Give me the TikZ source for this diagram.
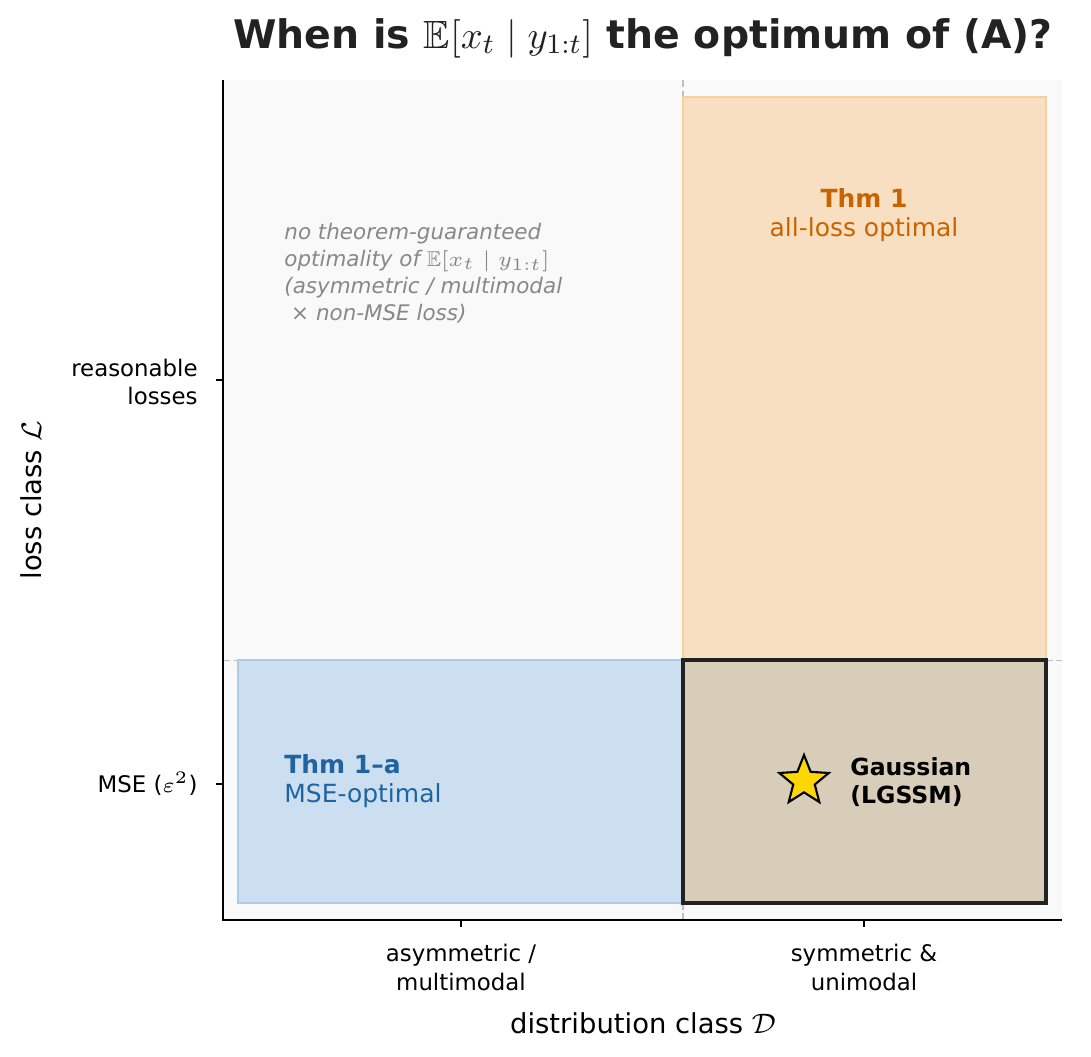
\documentclass[tikz,border=0pt]{standalone}
\usepackage{amssymb}
\usepackage{fontspec}
\setmainfont{DejaVu Sans}
\usetikzlibrary{shapes.geometric}
\definecolor{bgc}{HTML}{F9F9F9}
\definecolor{orf}{HTML}{F9DFC1}
\definecolor{ord}{HTML}{F5CFA0}
\definecolor{blf}{HTML}{CBDFF0}
\definecolor{bld}{HTML}{A9CCE9}
\definecolor{ovf}{HTML}{D8CDB8}
\definecolor{thmo}{HTML}{C86400}
\definecolor{thmb}{HTML}{1F63A0}
\definecolor{grayt}{HTML}{888888}
\definecolor{dk}{HTML}{222222}
\tikzset{lbl/.style={font=\fontsize{6.5}{8.2}\selectfont,align=center},
 grid/.style={dashed,draw=gray!50,line width=0.3pt,dash pattern=on 2pt off 1pt}}
\begin{document}
\begin{tikzpicture}[x=0.01cm,y=-0.01cm]
\useasboundingbox (0,0) rectangle (1091,1056);
\fill[bgc] (223,80) rectangle (1062,920);
\draw[grid] (683,80) -- (683,920);
\draw[grid] (223,660) -- (1062,660);
\filldraw[fill=orf,draw=ord,line width=0.6pt] (683,97) rectangle (1046,903);
\filldraw[fill=blf,draw=bld,line width=0.6pt] (238,660) rectangle (683,903);
\filldraw[fill=ovf,draw=dk,line width=1.2pt] (683,660) rectangle (1046,903);
\node[star,star points=5,star point ratio=2.3,fill=yellow!75!orange,draw=black,line width=0.6pt,minimum size=0.52cm,inner sep=0pt] (star) at (804,781) {};
\node[anchor=west,font=\fontsize{6.7}{8}\selectfont\bfseries,align=left] (gauss) at (838,782) {Gaussian\\(LGSSM)};
\node[font=\fontsize{7.1}{8.4}\selectfont,text=thmo,align=center] (t1) at (864,215) {\textbf{Thm 1}\\all-loss optimal};
\node[anchor=west,font=\fontsize{7.1}{8.4}\selectfont,text=thmb,align=left] (t1a) at (272,781) {\textbf{Thm 1–a}\\MSE-optimal};
\node[anchor=west,font=\fontsize{6.1}{7.7}\selectfont\itshape,text=grayt,align=left] (note) at (272,273) {no theorem-guaranteed\\optimality of $\mathbb{E}[x_t\mid y_{1:t}]$\\(asymmetric / multimodal\\ \ × non-MSE loss)};
\draw[black,line width=0.5pt] (223,80) -- (223,920) -- (1062,920);
\draw (223,380) -- (216,380) (223,784) -- (216,784) (461,920) -- (461,927) (864,920) -- (864,927);
\node[lbl,anchor=east,align=right] (yl1) at (210,382) {reasonable\\losses};
\node[lbl,anchor=east] (yl2) at (210,784) {MSE ($\varepsilon^2$)};
\node[lbl,anchor=north] (xl1) at (461,932) {asymmetric /\\multimodal};
\node[lbl,anchor=north] (xl2) at (864,932) {symmetric \&\\unimodal};
\node[font=\fontsize{7.8}{9}\selectfont] (xlab) at (643,1023) {distribution class $\mathcal{D}$};
\node[font=\fontsize{7.8}{9}\selectfont,rotate=90] (ylab) at (31,500) {loss class $\mathcal{L}$};
\node[font=\fontsize{11.2}{13}\selectfont\bfseries,text=dk] (title) at (643,38) {When is $\mathbb{E}[x_t\mid y_{1:t}]$ the optimum of (A)?};
\end{tikzpicture}
\end{document}
